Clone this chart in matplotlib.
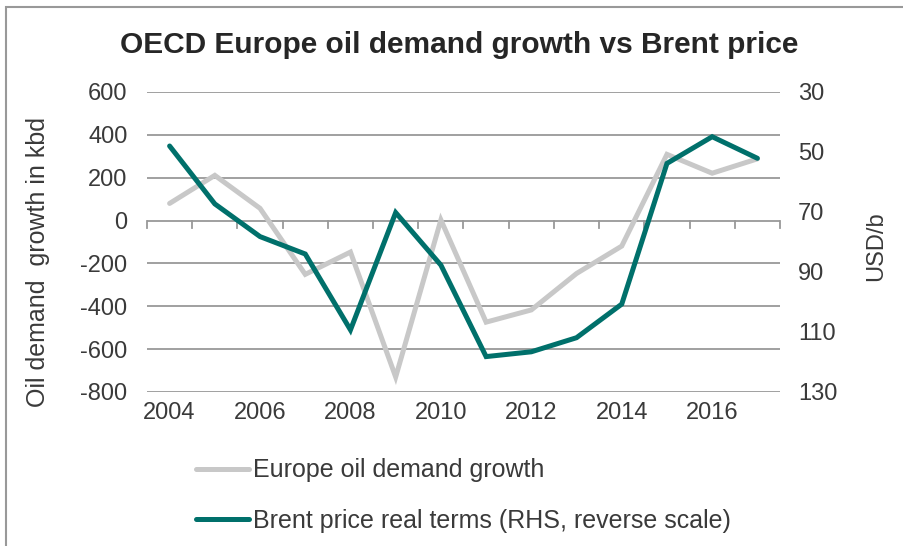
import matplotlib
matplotlib.use("Agg")
import matplotlib.pyplot as plt
from matplotlib.patches import Rectangle

years = list(range(2004, 2018))
demand_growth = [80, 211, 57, -251, -147, -730, 3, -474, -417, -247, -119, 309, 221, 288]
brent_price = [48.0, 67.3, 78.2, 84.0, 109.3, 70.2, 87.7, 118.2, 116.6, 111.9, 100.7, 53.8, 44.9, 52.1]
left_ticks = [600, 400, 200, 0, -200, -400, -600, -800]
right_ticks = [30, 50, 70, 90, 110, 130]
x_labels = [2004, 2006, 2008, 2010, 2012, 2014, 2016]

plt.rcParams['font.family'] = ['Liberation Sans', 'DejaVu Sans']
plt.rcParams['axes.unicode_minus'] = False

W, H = 904, 546
fig = plt.figure(figsize=(W / 100, H / 100), dpi=100)

# outer frame
fig.patches.append(Rectangle((6.5 / W, -0.01), 1.02, 1 - 7 / H + 0.01, transform=fig.transFigure,
                             fill=False, edgecolor='#999999', linewidth=1.5))

ax = fig.add_axes([147 / W, 1 - 392 / H, 633 / W, 300 / H])
ax2 = ax.twinx()

grey = '#c8c8c8'
teal = '#00706b'
gridc = '#999999'
txtc = '#3a3a3a'

ax.set_xlim(2003.5, 2017.5)
ax.set_ylim(-800, 600)
ax.set_yticks(left_ticks)
for v in left_ticks:
    if v != 0:
        ax.axhline(v, color=gridc, linewidth=1.3, zorder=0)
ax.axhline(0, color=gridc, linewidth=1.3, zorder=1)

ax2.set_ylim(130, 30)
ax2.set_yticks(right_ticks)

for a in (ax, ax2):
    for s in a.spines.values():
        s.set_visible(False)

ax.tick_params(axis='y', length=0, labelsize=17, labelcolor=txtc, pad=14)
ax2.tick_params(axis='y', length=0, labelsize=17, labelcolor=txtc, pad=13)

# x ticks at category boundaries, on the zero line
bounds = [y - 0.5 for y in years] + [years[-1] + 0.5]
for b in bounds:
    ax.plot([b, b], [0, -33], color=gridc, linewidth=1.3, zorder=1, clip_on=False)
ax.set_xticks(x_labels)
ax.set_xticklabels([str(v) for v in x_labels])
ax.tick_params(axis='x', length=0, labelsize=17, labelcolor=txtc, pad=7)

l1, = ax.plot(years, demand_growth, color=grey, linewidth=3.6, solid_capstyle='round',
              solid_joinstyle='miter', zorder=3, label='Europe oil demand growth')
l2, = ax2.plot(years, brent_price, color=teal, linewidth=3.6, solid_capstyle='round',
               solid_joinstyle='miter', zorder=4, label='Brent price real terms (RHS, reverse scale)')

ax.set_ylabel('Oil demand  growth in kbd', fontsize=18, color=txtc, labelpad=22)
ax.yaxis.label.set_y(0.5 - 20 / 300)
ax2.set_ylabel('USD/b', fontsize=17, color=txtc, labelpad=20)
ax2.yaxis.label.set_y(0.5 - 4 / 300)

fig.text(459 / W, 1 - 45 / H, 'OECD Europe oil demand growth vs Brent price',
         ha='center', va='center', fontsize=21.5, fontweight='bold', color='#262626')

fig.legend(handles=[l1, l2], loc='upper left', bbox_to_anchor=(174 / W, 1 - 436 / H),
           frameon=False, fontsize=18, handlelength=2.1, handletextpad=0.15,
           labelspacing=1.05, labelcolor=txtc)

fig.savefig('out.png', dpi=100)
